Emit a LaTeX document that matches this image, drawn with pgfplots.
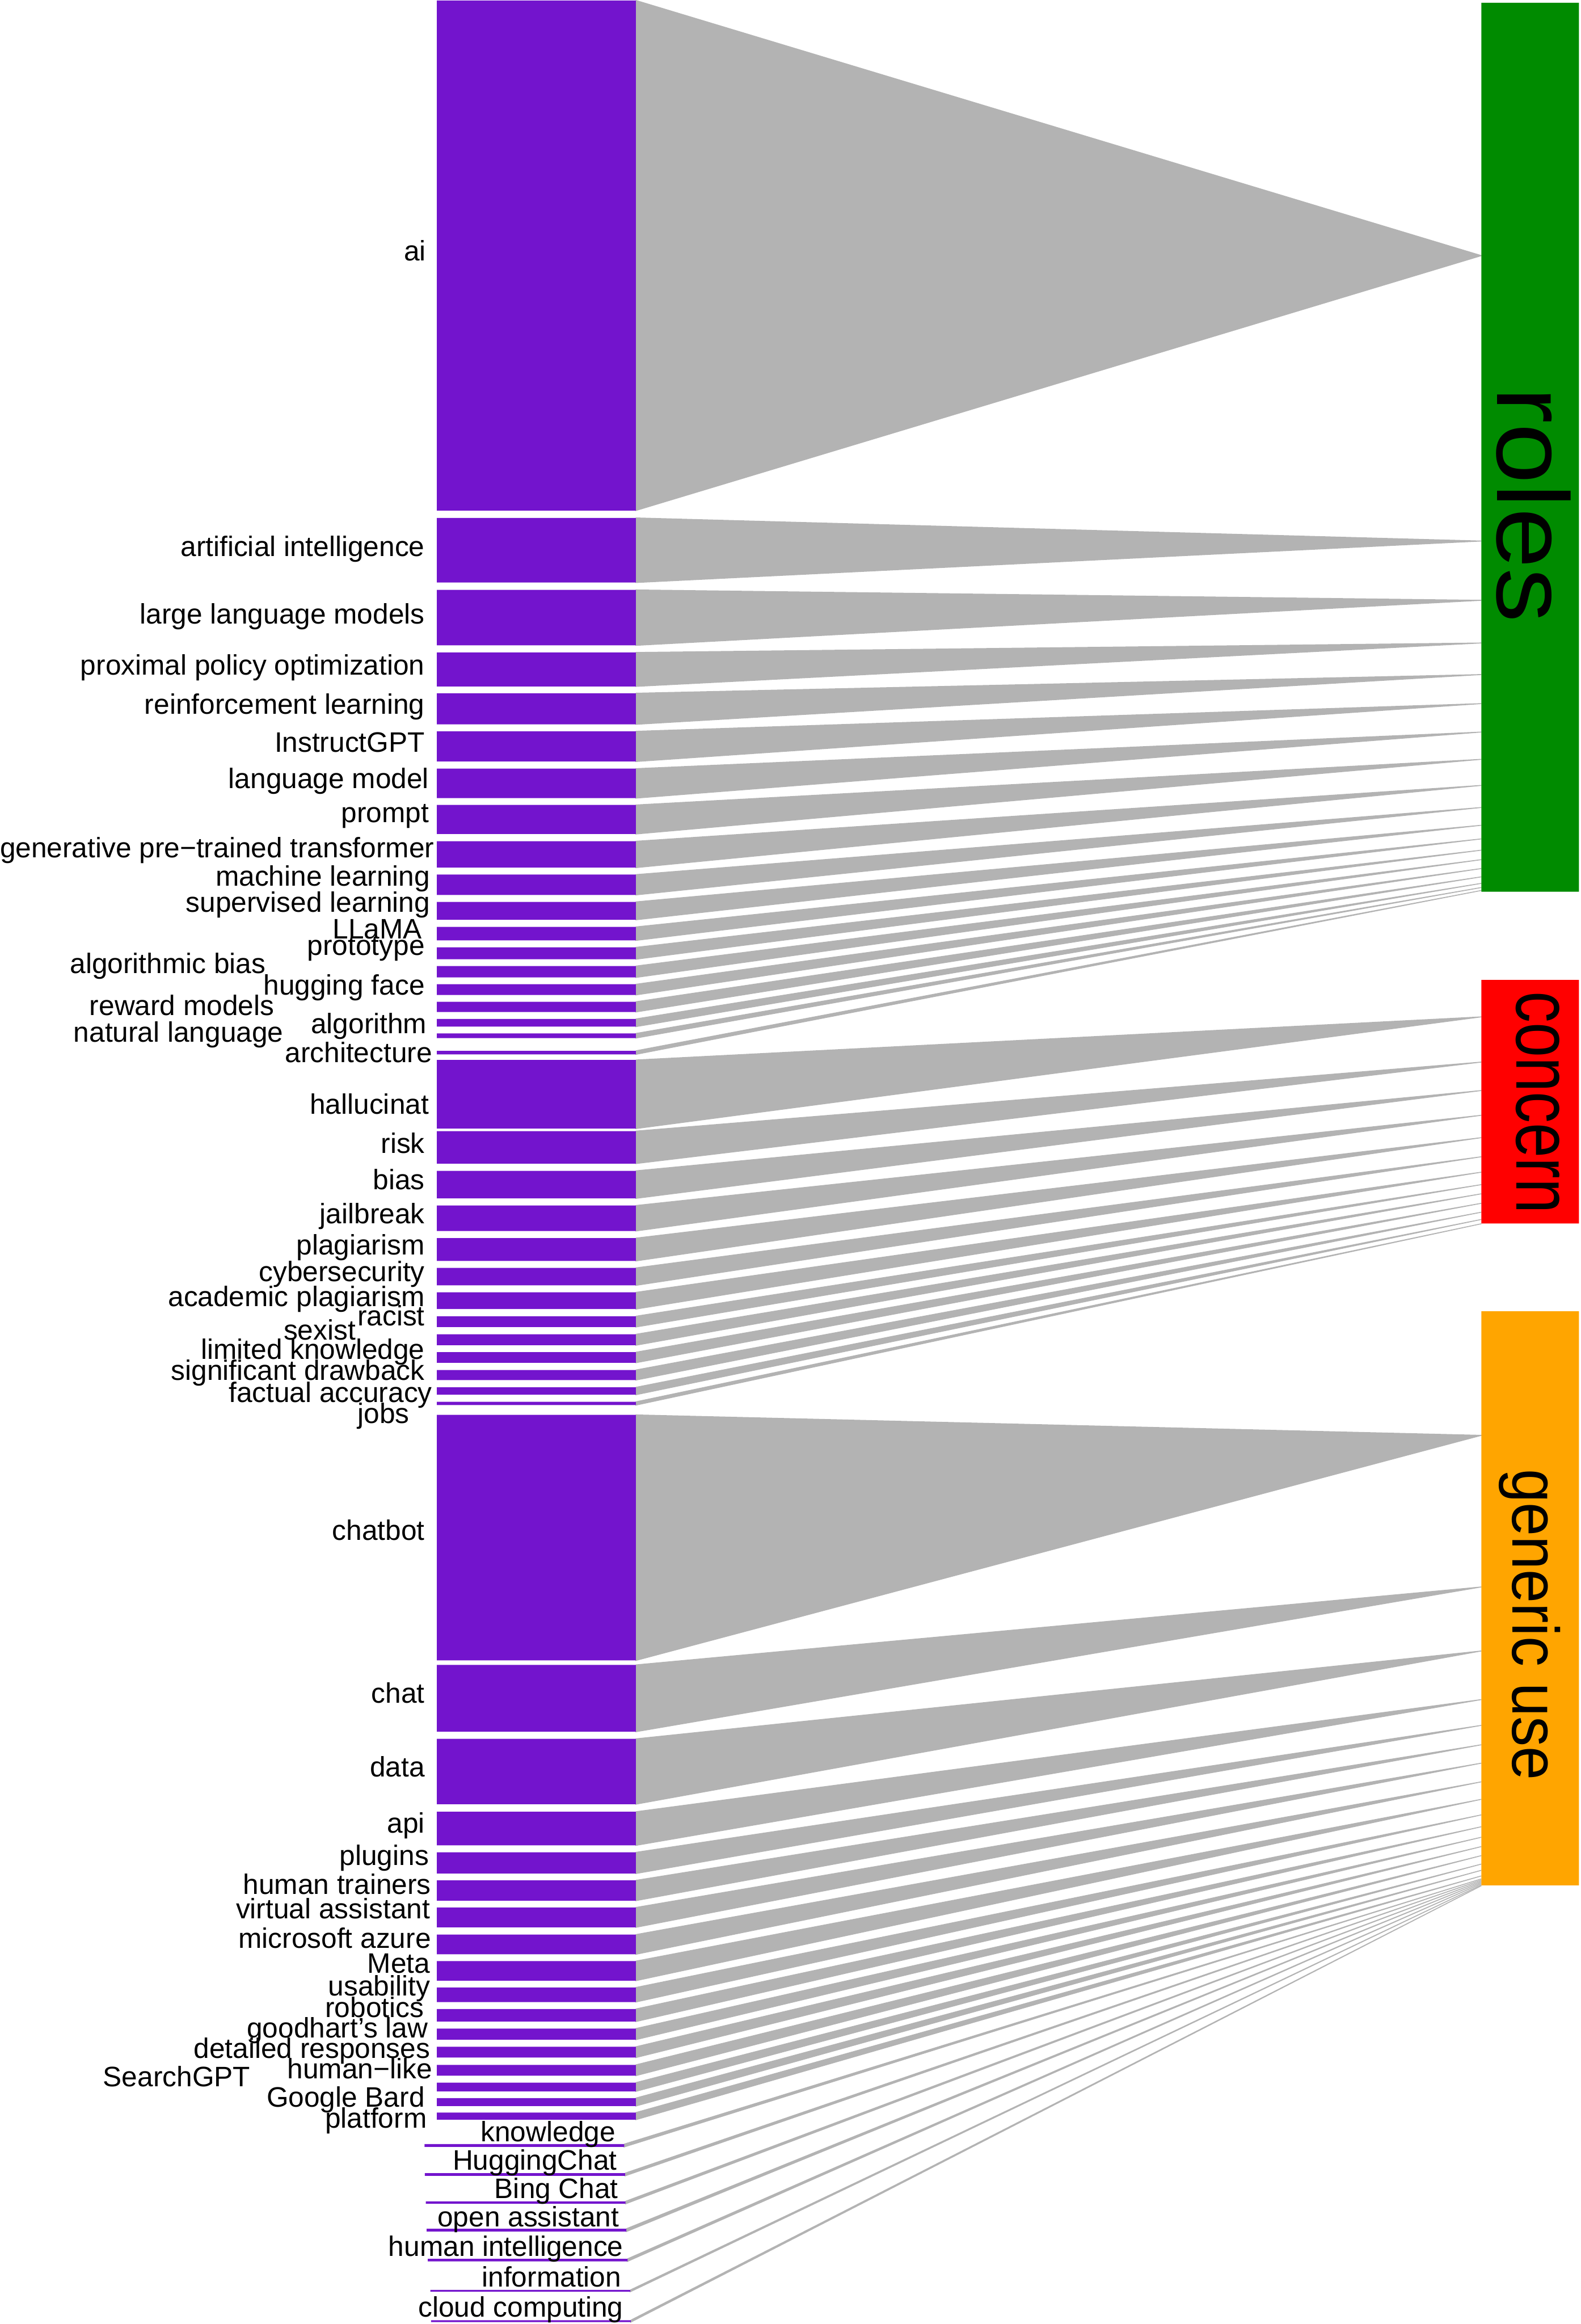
\documentclass[border=0pt]{standalone}
\usepackage{pgfplots}
\pgfplotsset{compat=1.18}
\usepackage{fontspec}
\setmainfont{Liberation Sans}
\usepackage{graphicx}
\definecolor{barpurple}{RGB}{115,20,205}
\definecolor{flowgray}{RGB}{179,179,179}
\definecolor{rolesgreen}{RGB}{0,139,0}
\definecolor{concernred}{RGB}{255,0,0}
\definecolor{genericorange}{RGB}{255,165,0}
\newcommand{\labfont}{\fontsize{9.5}{11}\selectfont}
% \nd{x left}{x right}{y top}{y bottom}{apex y}{label right x}{label baseline y}{label}
\newcommand{\nd}[8]{%
  \addplot[fill=flowgray, draw=flowgray, line width=0.3pt] coordinates {(#2,#3) (#2,#4) (998,#5) (#2,#3)};
  \addplot[fill=barpurple, draw=none] coordinates {(#1,#3) (#2,#3) (#2,#4) (#1,#4) (#1,#3)};
  \node[anchor=base east, inner sep=0pt, font=\labfont] at (axis cs:#6,#7) {#8};
}
\begin{document}
\begin{tikzpicture}
\begin{axis}[scale only axis, width=532.5pt, height=784pt,
  xmin=0, xmax=1065, ymin=0, ymax=1568, y dir=reverse,
  hide axis, clip=false]
\addplot[draw=none] coordinates {(0,0) (1065,1568)};
% ---- roles ----
\nd{293}{427.3}{0}{344.2}{172.2}{286}{175.5}{ai}
\nd{293}{427.3}{349.2}{392.8}{364.8}{285.2}{375.2}{artificial intelligence}
\nd{293}{427.3}{397.8}{435.2}{404.8}{285.2}{420.6}{large language models}
\nd{293}{427.3}{440.0}{462.9}{433.6}{285.2}{455.2}{proximal policy optimization}
\nd{293}{427.3}{467.5}{488.5}{454.9}{285.2}{481.6}{reinforcement learning}
\nd{293}{427.3}{493.2}{513.6}{474.5}{285.2}{507.1}{InstructGPT}
\nd{293}{427.3}{518.4}{538.3}{493.7}{288.0}{531.7}{language model}
\nd{293}{427.3}{542.9}{562.5}{512.1}{288.0}{554.8}{prompt}
\nd{293}{427.3}{567.4}{585.2}{529.7}{291.6}{578.4}{generative pre−trained transformer}
\nd{293}{427.3}{589.9}{603.6}{544.6}{288.8}{597.7}{machine learning}
\nd{293}{427.3}{608.3}{620.4}{556.6}{288.8}{615.2}{supervised learning}
\nd{293}{427.3}{625.2}{634.3}{565.8}{283.3}{633.3}{LLaMA}
\nd{293}{427.3}{639.0}{647.0}{573.4}{285.2}{644.4}{prototype}
\nd{293}{427.3}{651.6}{659.3}{579.8}{177.8}{656.4}{algorithmic bias}
\nd{293}{427.3}{663.9}{671.1}{585.8}{285.2}{671.0}{hugging face}
\nd{293}{427.3}{675.7}{682.6}{591.4}{183.6}{684.9}{reward models}
\nd{293}{427.3}{687.3}{692.5}{595.8}{286.6}{697.0}{algorithm}
\nd{293}{427.3}{697.1}{700.2}{598.6}{189.8}{702.7}{natural language}
\nd{293}{427.3}{708.8}{711.2}{600.6}{290.2}{716.6}{architecture}
% ---- concern ----
\nd{293}{427.3}{715.0}{761.3}{685.9}{288.0}{751.3}{hallucinat}
\nd{293}{427.3}{763.0}{784.9}{716.4}{285.2}{778.0}{risk}
\nd{293}{427.3}{789.8}{808.4}{735.6}{285.2}{802.6}{bias}
\nd{293}{427.3}{813.2}{830.4}{752.3}{285.2}{825.3}{jailbreak}
\nd{293}{427.3}{835.2}{850.6}{767.4}{285.2}{846.6}{plagiarism}
\nd{293}{427.3}{855.3}{867.1}{780.3}{285.2}{864.4}{cybersecurity}
\nd{293}{427.3}{871.8}{883.1}{790.7}{285.2}{881.3}{academic plagiarism}
\nd{293}{427.3}{887.9}{895.2}{799.1}{285.2}{894.4}{racist}
\nd{293}{427.3}{900.1}{907.5}{805.3}{238.6}{903.9}{sexist}
\nd{293}{427.3}{912.2}{919.3}{811.7}{285.2}{916.8}{limited knowledge}
\nd{293}{427.3}{924.2}{931.0}{817.7}{285.2}{931.2}{significant drawback}
\nd{293}{427.3}{935.9}{940.9}{822.6}{290.2}{946.0}{factual accuracy}
\nd{293}{427.3}{945.7}{947.9}{825.5}{274.9}{960.3}{jobs}
% ---- generic use ----
\nd{293}{427.3}{954.5}{1120.2}{968.3}{285.2}{1039.2}{chatbot}
\nd{293}{427.3}{1123.2}{1168.3}{1070.6}{285.2}{1149.0}{chat}
\nd{293}{427.3}{1173.1}{1217.2}{1113.8}{285.2}{1198.6}{data}
\nd{293}{427.3}{1222.3}{1245.0}{1146.6}{285.2}{1236.7}{api}
\nd{293}{427.3}{1249.7}{1264.0}{1164.0}{288.0}{1258.4}{plugins}
\nd{293}{427.3}{1268.6}{1282.3}{1177.1}{289.4}{1277.9}{human trainers}
\nd{293}{427.3}{1286.9}{1300.3}{1189.5}{288.8}{1294.4}{virtual assistant}
\nd{293}{427.3}{1305.2}{1318.5}{1202.1}{289.4}{1314.2}{microsoft azure}
\nd{293}{427.3}{1323.1}{1336.3}{1213.9}{288.8}{1331.1}{Meta}
\nd{293}{427.3}{1340.9}{1350.7}{1224.4}{288.8}{1346.3}{usability}
\nd{293}{427.3}{1355.4}{1363.9}{1232.4}{284.6}{1361.0}{robotics}
\nd{293}{427.3}{1368.6}{1376.1}{1239.5}{287.4}{1374.9}{goodhart's law}
\nd{293}{427.3}{1380.9}{1388.2}{1245.8}{288.8}{1388.5}{detailed responses}
\nd{293}{427.3}{1393.1}{1400.4}{1251.9}{290.2}{1402.2}{human−like}
\nd{293}{427.3}{1405.1}{1411.0}{1257.6}{167.4}{1407.9}{SearchGPT}
\nd{293}{427.3}{1415.5}{1420.9}{1261.8}{285.2}{1421.5}{Google Bard}
\nd{293}{427.3}{1425.3}{1430.1}{1265.6}{286.6}{1435.6}{platform}
\nd{284.7}{419.4}{1446.6}{1448.5}{1267.6}{413.9}{1444.7}{knowledge}
\nd{284.9}{420.0}{1466.2}{1468.0}{1268.4}{415.0}{1463.9}{HuggingChat}
\nd{285.5}{420.3}{1485.2}{1486.9}{1269.2}{415.8}{1483.1}{Bing Chat}
\nd{286.1}{420.9}{1503.7}{1505.6}{1270.0}{416.4}{1502.4}{open assistant}
\nd{286.9}{421.7}{1524.0}{1525.7}{1270.8}{419.2}{1522.1}{human intelligence}
\nd{288.6}{423.6}{1545.0}{1546.2}{1271.6}{417.8}{1543.0}{information}
\nd{289.1}{423.9}{1565.4}{1566.7}{1272.2}{419.2}{1563.3}{cloud computing}
% ---- right nodes ----
\addplot[fill=rolesgreen, draw=none] coordinates {(998,1.6) (1063.8,1.6) (1063.8,601.4) (998,601.4) (998,1.6)};
\addplot[fill=concernred, draw=none] coordinates {(998,661.0) (1063.8,661.0) (1063.8,825.3) (998,825.3) (998,661.0)};
\addplot[fill=genericorange, draw=none] coordinates {(998,884.6) (1063.8,884.6) (1063.8,1272.0) (998,1272.0) (998,884.6)};
\node[rotate=-90, anchor=base, inner sep=0pt, font=\fontsize{34.25}{40}\selectfont] at (axis cs:1008.8,340.4) {\scalebox{1.07}[1]{roles}};
\node[rotate=-90, anchor=base, inner sep=0pt, font=\fontsize{27}{32}\selectfont] at (axis cs:1021.7,743.6) {\scalebox{0.78}[1]{concern}};
\node[rotate=-90, anchor=base, inner sep=0pt, font=\fontsize{22.25}{27}\selectfont] at (axis cs:1019.1,1096.1) {\scalebox{0.913}[1]{generic use}};
\end{axis}
\end{tikzpicture}
\end{document}
